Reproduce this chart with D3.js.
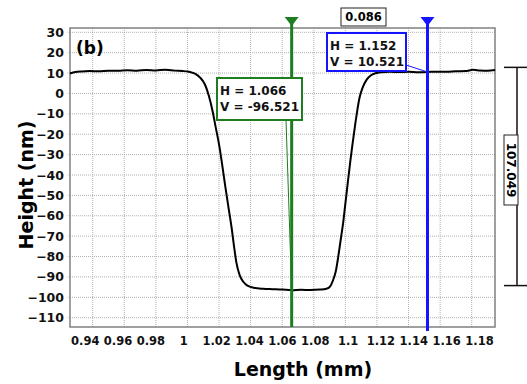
<!DOCTYPE html>
<html>
<head>
<meta charset="utf-8">
<script src="https://cdn.jsdelivr.net/npm/d3@7"></script>
<style>
  body { margin: 0; background: #fff; }
  text { font-family: "DejaVu Sans", Verdana, sans-serif; font-weight: bold; }
</style>
</head>
<body>
<div id="chart"></div>
<script>
var svgWidth = 527;
var svgHeight = 384;

var plot = { left: 70, right: 495, top: 28, bottom: 327 };

// profile data
var lengthMm = [0.9256, 0.929, 0.933, 0.938, 0.944, 0.950, 0.956, 0.962, 0.968, 0.974,
  0.980, 0.986, 0.992, 0.997, 1.001, 1.005, 1.008, 1.011, 1.0135, 1.016,
  1.018, 1.020, 1.022, 1.024, 1.026, 1.028, 1.0295, 1.031, 1.033, 1.0355,
  1.038, 1.042, 1.048, 1.054, 1.060, 1.066, 1.072, 1.078, 1.084, 1.088,
  1.0905, 1.092, 1.094, 1.0955, 1.097, 1.0985, 1.100, 1.1015, 1.103, 1.1045,
  1.106, 1.1075, 1.109, 1.111, 1.1135, 1.116, 1.119, 1.123, 1.128, 1.134,
  1.140, 1.146, 1.152, 1.158, 1.164, 1.170, 1.176, 1.181, 1.185, 1.190, 1.1948];
var heightNm = [9.8, 10.5, 10.8, 11.0, 10.9, 11.2, 11.1, 11.4, 11.2, 11.5,
  11.3, 11.6, 11.2, 11.0, 10.6, 9.6, 7.8, 4.5, -1, -9,
  -17, -25, -35, -45.8, -56, -66, -75, -83, -89, -92.5,
  -94.3, -95.3, -95.8, -96.0, -96.2, -96.5, -96.3, -96.4, -96.2, -95.8,
  -94.5, -92, -87, -80, -72, -64, -54, -44, -34, -25,
  -16.5, -8.5, -2, 3, 6.8, 8.8, 9.9, 10.4, 10.6, 10.5,
  10.6, 10.4, 10.5, 10.7, 10.6, 10.9, 11.0, 11.6, 11.3, 11.1, 11.5];

var xTicks = [0.94, 0.96, 0.98, 1, 1.02, 1.04, 1.06, 1.08, 1.1, 1.12, 1.14, 1.16, 1.18];
var yTicks = [30, 20, 10, 0, -10, -20, -30, -40, -50, -60, -70, -80, -90, -100, -110];

// cursors
var cursorH = [1.066, 1.152];
var cursorV = [-96.521, 10.521];
var cursorColors = ["#1e7d1e", "#1414ff"];
var deltaH = "0.086";
var stepTop = 12.8;
var stepBottom = -94.249;
var stepLabel = "107.049";

var svg = d3.select("#chart")
  .append("svg")
  .attr("width", svgWidth)
  .attr("height", svgHeight);

var x = d3.scaleLinear()
  .domain([0.92563, 1.19475])
  .range([plot.left, plot.right]);

var y = d3.scaleLinear()
  .domain([-114.56, 32.11])
  .range([plot.bottom, plot.top]);

// tick labels in the picture are spread a bit wider than the grid
var xLabelScale = d3.scaleLinear()
  .domain([0.94, 1.18])
  .range([84.7, 479]);

// grid
var grid = svg.append("g");
grid.selectAll(".vg")
  .data(xTicks)
  .enter()
  .append("line")
  .attr("x1", d => x(d))
  .attr("x2", d => x(d))
  .attr("y1", plot.top)
  .attr("y2", plot.bottom)
  .attr("stroke", "#b0b0b0")
  .attr("stroke-dasharray", "1,1");
grid.selectAll(".hg")
  .data(yTicks)
  .enter()
  .append("line")
  .attr("x1", plot.left)
  .attr("x2", plot.right)
  .attr("y1", d => y(d))
  .attr("y2", d => y(d))
  .attr("stroke", "#b0b0b0")
  .attr("stroke-dasharray", "1,1");

// small light blue ticks on left
grid.selectAll(".yt")
  .data(yTicks)
  .enter()
  .append("line")
  .attr("x1", plot.left - 3)
  .attr("x2", plot.left)
  .attr("y1", d => y(d))
  .attr("y2", d => y(d))
  .attr("stroke", "#cfe6f5")
  .attr("stroke-width", 1);

// frame
svg.append("rect")
  .attr("x", plot.left)
  .attr("y", plot.top)
  .attr("width", plot.right - plot.left)
  .attr("height", plot.bottom - plot.top)
  .attr("fill", "none")
  .attr("stroke", "#808080")
  .attr("stroke-width", 1.5);

// axes labels
var leftAxis = d3.axisLeft(y).tickValues(yTicks).tickSize(0).tickPadding(6);
var yAxis = svg.append("g")
  .attr("transform", `translate(${plot.left}, 0)`)
  .call(leftAxis);
yAxis.select(".domain").remove();
yAxis.selectAll("text")
  .attr("font-size", "12.5px")
  .attr("font-family", "DejaVu Sans")
  .attr("font-weight", "bold")
  .attr("fill", "#111");

var bottomAxis = d3.axisBottom(xLabelScale).tickValues(xTicks).tickSize(0).tickPadding(10)
  .tickFormat(d3.format("~g"));
var xAxis = svg.append("g")
  .attr("transform", `translate(0, ${plot.bottom})`)
  .call(bottomAxis);
xAxis.select(".domain").remove();
xAxis.selectAll("text")
  .attr("font-size", "11.5px")
  .attr("font-family", "DejaVu Sans")
  .attr("font-weight", "bold")
  .attr("fill", "#111");

svg.append("text")
  .attr("x", 303)
  .attr("y", 376)
  .attr("text-anchor", "middle")
  .attr("font-size", "19px")
  .text("Length (mm)");

svg.append("text")
  .attr("transform", "translate(33, 185) rotate(-90)")
  .attr("text-anchor", "middle")
  .attr("font-size", "19px")
  .text("Height (nm)");

svg.append("text")
  .attr("x", 76)
  .attr("y", 54)
  .attr("font-size", "17px")
  .text("(b)");

// profile
var profile = lengthMm.map((d, i) => [d, heightNm[i]]);
var line = d3.line()
  .x(d => x(d[0]))
  .y(d => y(d[1]))
  .curve(d3.curveMonotoneX);
svg.append("path")
  .datum(profile)
  .attr("d", line)
  .attr("fill", "none")
  .attr("stroke", "#000")
  .attr("stroke-width", 2);

// cursor lines + triangles
cursorH.forEach(function(h, i) {
  var cx = x(h);
  svg.append("line")
    .attr("x1", cx).attr("x2", cx)
    .attr("y1", 20).attr("y2", i === 0 ? plot.bottom : plot.bottom + 4)
    .attr("stroke", cursorColors[i])
    .attr("stroke-width", 3);
  svg.append("path")
    .attr("d", `M${cx - 7},17 L${cx + 7},17 L${cx},26 Z`)
    .attr("fill", cursorColors[i]);
});

// cursor value boxes
var boxes = [
  { left: 217, top: 78, w: 85, h: 42, ax: 286, ay: 120 },
  { left: 327, top: 33, w: 79, h: 38, ax: 406, ay: 65 }
];
boxes.forEach(function(b, i) {
  svg.append("line")
    .attr("x1", b.ax).attr("y1", b.ay)
    .attr("x2", x(cursorH[i])).attr("y2", y(cursorV[i]))
    .attr("stroke", cursorColors[i])
    .attr("stroke-width", 1);
  svg.append("rect")
    .attr("x", b.left).attr("y", b.top)
    .attr("width", b.w).attr("height", b.h)
    .attr("fill", "#fff")
    .attr("stroke", cursorColors[i])
    .attr("stroke-width", 2);
  svg.append("text")
    .attr("x", b.left + 3).attr("y", b.top + 17)
    .attr("font-size", "12px")
    .attr("fill", "#111")
    .text("H = " + cursorH[i].toFixed(3));
  svg.append("text")
    .attr("x", b.left + 3).attr("y", b.top + 33)
    .attr("font-size", "12px")
    .attr("fill", "#111")
    .text("V = " + cursorV[i].toFixed(3));
});

// delta H box
svg.append("rect")
  .attr("x", 341).attr("y", 8)
  .attr("width", 45).attr("height", 18)
  .attr("fill", "#fff")
  .attr("stroke", "#222")
  .attr("stroke-width", 1);
svg.append("text")
  .attr("x", 363.5).attr("y", 21)
  .attr("text-anchor", "middle")
  .attr("font-size", "11.5px")
  .text(deltaH);

// step height marker on the right
var sx = 517;
svg.append("line")
  .attr("x1", sx).attr("x2", sx)
  .attr("y1", y(stepTop)).attr("y2", y(stepBottom))
  .attr("stroke", "#111").attr("stroke-width", 1.5);
[stepTop, stepBottom].forEach(function(v) {
  svg.append("line")
    .attr("x1", 504).attr("x2", 527)
    .attr("y1", y(v)).attr("y2", y(v))
    .attr("stroke", "#111").attr("stroke-width", 1.5);
});
svg.append("rect")
  .attr("x", 504).attr("y", 135)
  .attr("width", 14).attr("height", 70)
  .attr("fill", "#fff")
  .attr("stroke", "#222")
  .attr("stroke-width", 1);
svg.append("text")
  .attr("transform", "translate(507, 170) rotate(90)")
  .attr("text-anchor", "middle")
  .attr("font-size", "12px")
  .text(stepLabel);
</script>
</body>
</html>
